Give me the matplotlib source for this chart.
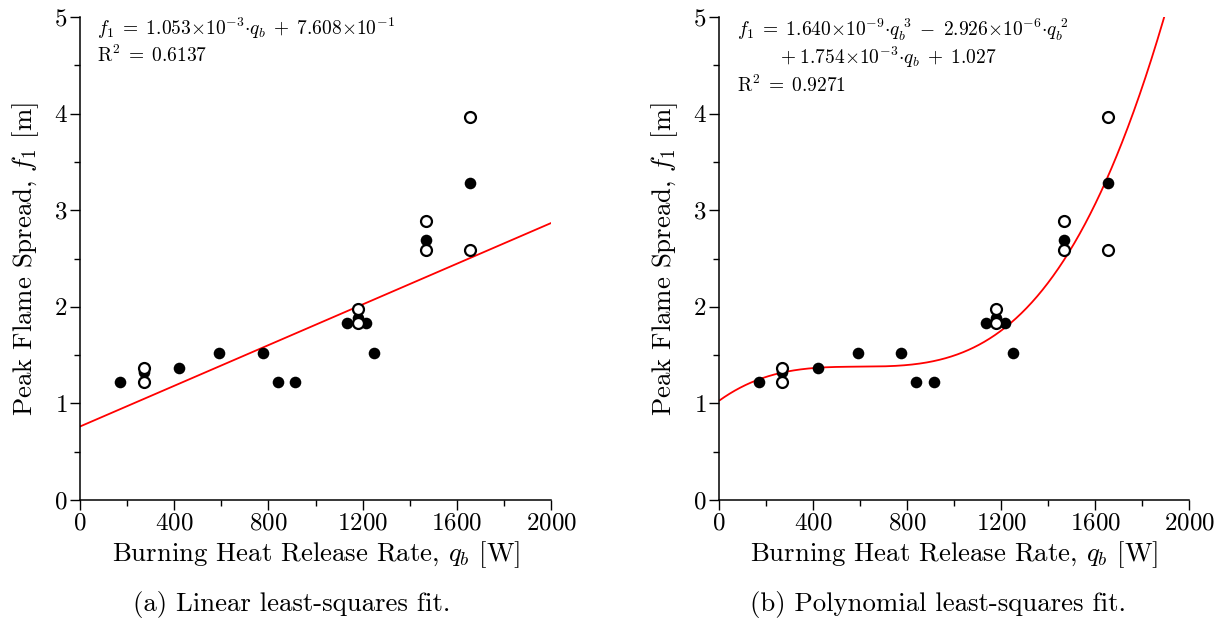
import numpy as np
import matplotlib
matplotlib.use("Agg")
import matplotlib.pyplot as plt
from matplotlib.ticker import MultipleLocator

plt.rcParams['font.family'] = 'cmr10'
plt.rcParams['mathtext.fontset'] = 'cm'
plt.rcParams['axes.unicode_minus'] = False
plt.rcParams['axes.formatter.use_mathtext'] = True

# Data
q_filled = [170, 270, 420, 590, 775, 840, 915, 1135, 1180, 1215, 1250, 1470, 1655]
f_filled = [1.22, 1.32, 1.37, 1.52, 1.52, 1.22, 1.22, 1.83, 1.88, 1.83, 1.52, 2.69, 3.28]
q_open = [270, 270, 1180, 1180, 1470, 1470, 1655, 1655]
f_open = [1.37, 1.22, 1.98, 1.83, 2.89, 2.59, 2.59, 3.96]

# Fit coefficients shown on the chart (highest power first)
lin_coef = [1.053e-3, 7.608e-1]
poly_coef = [1.640e-9, -2.926e-6, 1.754e-3, 1.027]

x_ticks = [0, 400, 800, 1200, 1600, 2000]
y_ticks = [0, 1, 2, 3, 4, 5]

fig = plt.figure(figsize=(12.26, 6.19), dpi=100)
W, H = 1226, 619
axL = fig.add_axes([80 / W, (619 - 500) / H, 471 / W, 483 / H])
axR = fig.add_axes([719 / W, (619 - 500) / H, 470 / W, 483 / H])

qq = np.linspace(0, 2000, 800)

for ax, coef in ((axL, lin_coef), (axR, poly_coef)):
    ff = np.polyval(coef, qq)
    ax.plot(qq, ff, color='red', lw=1.3, zorder=2)
    ax.scatter(q_filled, f_filled, s=70, color='black', zorder=3, linewidths=0)
    ax.scatter(q_open, f_open, s=62, facecolor='white', edgecolor='black',
               linewidths=1.6, zorder=4)
    ax.set_xlim(0, 2000)
    ax.set_ylim(0, 5)
    ax.set_xticks(x_ticks)
    ax.set_yticks(y_ticks)
    ax.xaxis.set_minor_locator(MultipleLocator(200))
    ax.yaxis.set_minor_locator(MultipleLocator(0.5))
    ax.spines['top'].set_visible(False)
    ax.spines['right'].set_visible(False)
    for s in ('left', 'bottom'):
        ax.spines[s].set_linewidth(1.1)
    ax.tick_params(which='major', direction='out', length=7, width=1.0,
                   labelsize=18, pad=2)
    ax.tick_params(which='minor', direction='out', length=4.5, width=1.0)
    ax.set_xlabel(r'Burning Heat Release Rate, $q_b$ [W]', fontsize=19.3, labelpad=3)
    ax.set_ylabel(r'Peak Flame Spread, $f_1$ [m]', fontsize=19.3, labelpad=9)

fs = 14
sp = r'\;'
axL.text(0.036, 0.977,
         rf'$f_1 {sp}={sp} 1.053{{\times}}10^{{-3}}{{\cdot}}q_b {sp}+{sp} 7.608{{\times}}10^{{-1}}$',
         transform=axL.transAxes, fontsize=fs, va='center', ha='left')
axL.text(0.036, 0.921, rf'$\mathrm{{R}}^2 {sp}={sp} 0.6137$',
         transform=axL.transAxes, fontsize=fs, va='center', ha='left')

axR.text(0.038, 0.973,
         rf'$f_1 {sp}={sp} 1.640{{\times}}10^{{-9}}{{\cdot}}q_b^{{\ 3}} {sp}-{sp} 2.926{{\times}}10^{{-6}}{{\cdot}}q_b^{{\ 2}}$',
         transform=axR.transAxes, fontsize=fs, va='center', ha='left')
axR.text(0.130, 0.917,
         rf'$+{sp} 1.754{{\times}}10^{{-3}}{{\cdot}}q_b {sp}+{sp} 1.027$',
         transform=axR.transAxes, fontsize=fs, va='center', ha='left')
axR.text(0.038, 0.859, rf'$\mathrm{{R}}^2 {sp}={sp} 0.9271$',
         transform=axR.transAxes, fontsize=fs, va='center', ha='left')

fig.text(292 / W, 1 - 604 / H, '(a) Linear least-squares fit.',
         fontsize=19.3, ha='center', va='center')
fig.text(938 / W, 1 - 604 / H, '(b) Polynomial least-squares fit.',
         fontsize=19.3, ha='center', va='center')

fig.savefig('out.png', dpi=100)
